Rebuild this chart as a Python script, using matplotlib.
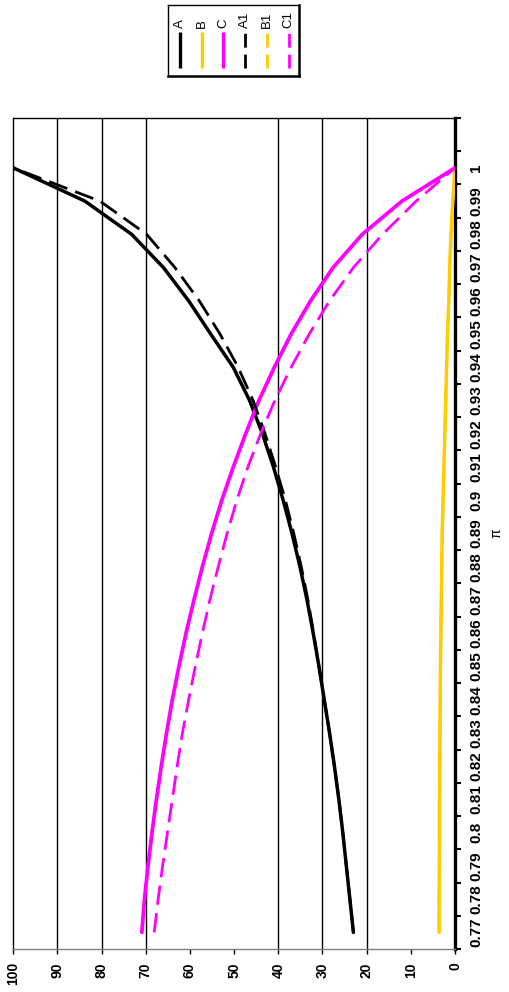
from __future__ import annotations

import matplotlib

matplotlib.use("Agg")

import matplotlib.pyplot as plt
import numpy as np
from matplotlib import font_manager

PI = [0.77, 0.78, 0.79, 0.80, 0.81, 0.82, 0.83, 0.84, 0.85, 0.86, 0.87, 0.88,
      0.89, 0.90, 0.91, 0.92, 0.93, 0.94, 0.95, 0.96, 0.97, 0.98, 0.99, 1.00]

A = [23.0, 23.8, 24.6, 25.4, 26.3, 27.3, 28.4, 29.6, 30.8, 32.1, 33.5, 35.1,
     36.9, 38.9, 41.1, 43.6, 46.5, 50.2, 55.3, 60.3, 66.0, 73.2, 83.8, 100.0]
B = [3.6, 3.6, 3.55, 3.5, 3.5, 3.45, 3.4, 3.35, 3.3, 3.2, 3.1, 3.0,
     2.9, 2.7, 2.5, 2.3, 2.1, 1.9, 1.7, 1.4, 1.2, 0.9, 0.5, 0.0]
C = [70.9, 70.3, 69.5, 68.6, 67.6, 66.5, 65.3, 64.0, 62.5, 60.9, 59.1, 57.2,
     55.1, 52.8, 50.2, 47.4, 44.4, 40.9, 37.1, 32.7, 27.6, 21.0, 12.0, 0.0]
A1 = [23.0, 23.8, 24.6, 25.4, 26.3, 27.3, 28.4, 29.6, 30.8, 32.0, 33.3, 34.8,
      36.5, 38.4, 40.6, 43.0, 45.7, 49.1, 53.2, 57.9, 63.4, 69.8, 80.4, 100.0]
B1 = [3.6, 3.6, 3.55, 3.5, 3.5, 3.45, 3.4, 3.35, 3.3, 3.2, 3.1, 3.0,
      2.9, 2.7, 2.5, 2.3, 2.1, 1.9, 1.7, 1.4, 1.2, 0.9, 0.5, 0.0]
C1 = [68.1, 67.2, 66.2, 65.1, 64.0, 62.9, 61.7, 60.3, 58.8, 57.2, 55.5, 53.6,
      51.6, 49.4, 46.9, 44.0, 40.8, 37.1, 33.0, 28.4, 23.0, 16.4, 8.8, 0.0]

SERIES_NAMES = ["A", "B", "C", "A1", "B1", "C1"]
SERIES_VALUES = [A, B, C, A1, B1, C1]
VALUE_TICKS = [0, 10, 20, 30, 40, 50, 60, 70, 80, 90, 100]
GRID_VALUES = [20, 30, 40, 70, 80, 90]

BLACK = "#000000"
MAGENTA = "#FF00FF"
GOLD = "#FFCC00"
STYLES = {
    "A": dict(color=BLACK, lw=2.5, ls="-"),
    "B": dict(color=GOLD, lw=2.5, ls="-"),
    "C": dict(color=MAGENTA, lw=2.7, ls="-"),
    "A1": dict(color=BLACK, lw=2.0, ls=(0, (7, 3))),
    "B1": dict(color=GOLD, lw=2.0, ls=(0, (7, 3))),
    "C1": dict(color=MAGENTA, lw=2.0, ls=(0, (7, 3))),
}

_names = {f.name for f in font_manager.fontManager.ttflist}
FONT = "Liberation Sans Narrow" if "Liberation Sans Narrow" in _names else "Liberation Sans"
plt.rcParams["font.family"] = [FONT, "DejaVu Sans"]

W, H = 509, 992
fig = plt.figure(figsize=(W / 100, H / 100), dpi=100)

# main plot: drawn turned on its side, values run right-to-left, pi bottom-to-top
ax = fig.add_axes([13.3 / W, 1 - 949 / H, (455 - 13.3) / W, (949 - 118) / H])

for name, vals in zip(SERIES_NAMES, SERIES_VALUES):
    st = STYLES[name]
    ax.plot(vals, PI, color=st["color"], lw=st["lw"], ls=st["ls"],
            solid_capstyle="round", dash_capstyle="butt", zorder=3)

for g in GRID_VALUES:
    ax.axvline(g, color=BLACK, lw=1.0, zorder=1)

ax.set_xlim(100, 0)
ax.set_ylim(0.765, 1.015)

ax.set_xticks(VALUE_TICKS)
ax.set_xticklabels([str(v) for v in VALUE_TICKS], rotation=90,
                   fontsize=10, fontweight="bold")
ax.tick_params(axis="x", direction="out", length=3.5, width=1.0, pad=6)

# category axis: tick marks between categories, labels centred on them
ax.yaxis.tick_right()
ax.set_yticks(np.round(np.arange(0.765, 1.0151, 0.01), 3))
ax.set_yticklabels([])
ax.set_yticks(PI, minor=True)
ax.set_yticklabels([f"{p:g}" for p in PI], minor=True, rotation=90,
                   va="center", fontsize=11, fontweight="bold")
ax.tick_params(axis="y", which="major", direction="out", length=4, width=1.5)
ax.tick_params(axis="y", which="minor", length=0, pad=10)

ax.yaxis.set_label_position("right")
ax.set_ylabel("π", rotation=90, fontsize=10, labelpad=5)

for side in ("top", "left"):
    ax.spines[side].set_linewidth(1.0)
    ax.spines[side].set_color(BLACK)
ax.spines["right"].set_linewidth(2.4)
ax.spines["right"].set_color(BLACK)
ax.spines["bottom"].set_linewidth(1.0)
ax.spines["bottom"].set_color("#808080")

# legend box with upright entries
bx0, by0, bw, bh = 168.3, 5, 131, 71
lax = fig.add_axes([bx0 / W, 1 - (by0 + bh) / H, bw / W, bh / H])
lax.set_xlim(0, bw)
lax.set_ylim(bh, 0)
lax.set_xticks([])
lax.set_yticks([])
for s in lax.spines.values():
    s.set_linewidth(1.0)
    s.set_color(BLACK)
lax.spines["right"].set_linewidth(1.8)
lax.spines["bottom"].set_linewidth(1.8)

for i, name in enumerate(SERIES_NAMES):
    st = STYLES[name]
    lx = 11.7 + i * 21.7
    lax.plot([lx, lx], [63.3, 26.7], color=st["color"], lw=2.0 if "1" in name else 2.4,
             ls=(0, (5, 2.5)) if "1" in name else "-", solid_capstyle="butt")
    lax.text(lx, 23, name, rotation=90, ha="center", va="bottom", fontsize=9.5)

fig.savefig("out.png", dpi=100)
